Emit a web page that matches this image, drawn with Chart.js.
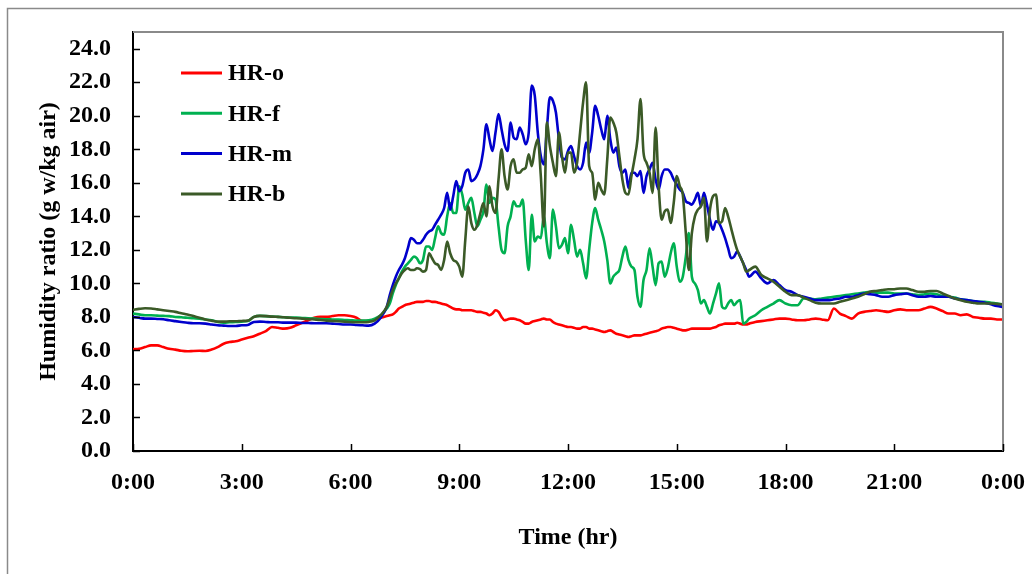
<!DOCTYPE html>
<html>
<head>
<meta charset="utf-8">
<script src="https://cdn.jsdelivr.net/npm/chart.js@4.4.1/dist/chart.umd.min.js"></script>
<style>
  html, body { margin: 0; padding: 0; background: #fff; }
  #wrap { position: relative; width: 1032px; height: 574px; }
  canvas { display: block; }
</style>
</head>
<body>
<div id="wrap"><canvas id="c" width="1032" height="574"></canvas></div>
<script>
// Time of day in minutes (10-min steps, 5-min steps between 7:00 and 17:00)
const times = [
  0,10,20,30,40,50, 60,70,80,90,100,110, 120,130,140,150,160,170,
  180,190,200,210,220,230, 240,250,260,270,280,290, 300,310,320,330,340,350,
  360,370,380,390,400,410,
  420,425,430,435,440,445,450,455,460,465,470,475,
  480,485,490,495,500,505,510,515,520,525,530,535,
  540,545,550,555,560,565,570,575,580,585,590,595,
  600,605,610,615,620,625,630,635,640,645,650,655,
  660,665,670,675,680,685,690,695,700,705,710,715,
  720,725,730,735,740,745,750,755,760,765,770,775,
  780,785,790,795,800,805,810,815,820,825,830,835,
  840,845,850,855,860,865,870,875,880,885,890,895,
  900,905,910,915,920,925,930,935,940,945,950,955,
  960,965,970,975,980,985,990,995,1000,1005,1010,1015,
  1020,
  1030,1040,1050,1060,1070,
  1080,1090,1100,1110,1120,1130, 1140,1150,1160,1170,1180,1190,
  1200,1210,1220,1230,1240,1250, 1260,1270,1280,1290,1300,1310,
  1320,1330,1340,1350,1360,1370, 1380,1390,1400,1410,1420,1430,
  1440
];

const hrO = [
  6.07,6.1,6.2,6.3,6.3,6.2, 6.1,6.05,5.98,5.95,5.97,5.98, 5.97,6.05,6.2,6.4,6.5,6.55,
  6.65,6.75,6.85,7.0,7.15,7.4, 7.35,7.3,7.35,7.5,7.65,7.8, 7.95,8.0,8.0,8.05,8.1,8.1,
  8.05,7.95,7.75,7.75,7.85,7.95,
  8.05,8.1,8.15,8.3,8.5,8.6,8.7,8.75,8.8,8.85,8.9,8.9,
  8.9,8.95,8.95,8.9,8.9,8.85,8.8,8.75,8.7,8.6,8.5,8.45,
  8.45,8.4,8.4,8.4,8.4,8.35,8.3,8.3,8.25,8.2,8.1,8.2,
  8.4,8.3,8.0,7.8,7.85,7.9,7.9,7.85,7.8,7.7,7.6,7.6,
  7.7,7.75,7.8,7.85,7.9,7.85,7.85,7.7,7.6,7.55,7.5,7.45,
  7.4,7.4,7.35,7.3,7.3,7.4,7.4,7.3,7.3,7.25,7.2,7.15,
  7.1,7.15,7.2,7.1,7.0,6.95,6.9,6.85,6.8,6.85,6.9,6.9,
  6.9,6.95,7.0,7.05,7.1,7.15,7.2,7.3,7.35,7.4,7.4,7.35,
  7.3,7.25,7.2,7.2,7.25,7.3,7.3,7.3,7.3,7.3,7.3,7.3,
  7.35,7.4,7.5,7.55,7.6,7.6,7.6,7.6,7.65,7.6,7.55,7.55,
  7.6,
  7.7,7.75,7.8,7.85,7.9,
  7.9,7.85,7.8,7.8,7.85,7.9, 7.85,7.8,8.5,8.2,8.05,7.9,
  8.2,8.3,8.35,8.4,8.35,8.3, 8.4,8.45,8.4,8.4,8.4,8.5,
  8.6,8.5,8.35,8.2,8.2,8.1, 8.15,8.0,7.95,7.9,7.9,7.85,
  7.85
];

const hrF = [
  8.2,8.15,8.1,8.1,8.08,8.06, 8.05,8.0,7.98,7.95,7.92,7.9, 7.85,7.8,7.7,7.66,7.68,7.7,
  7.72,7.75,8.0,8.06,8.05,8.02, 8.0,7.98,7.96,7.96,7.94,7.92, 7.9,7.88,7.86,7.85,7.84,7.82,
  7.8,7.78,7.78,7.8,7.9,8.1,
  8.5,8.8,9.4,9.9,10.3,10.7,11.0,11.2,11.4,11.6,11.5,11.2,
  11.4,12.2,12.2,12.0,12.7,13.4,13.0,12.9,14.0,14.8,14.2,14.2,
  15.8,15.3,14.4,14.8,15.1,14.2,13.4,13.8,14.3,15.9,14.8,15.1,
  15.0,13.4,12.0,11.8,13.4,14.0,14.9,14.6,14.6,15.0,12.6,10.8,
  14.1,12.5,12.8,12.7,14.0,12.4,11.5,14.4,13.4,12.1,12.3,12.7,
  11.8,13.5,12.6,11.6,12.0,11.2,10.3,12.0,13.6,14.5,13.8,13.2,
  12.5,11.4,10.0,10.4,10.6,10.8,11.6,12.2,11.4,11.0,10.8,9.2,
  8.6,10.2,10.8,12.1,11.0,9.9,11.2,11.3,10.4,10.9,11.8,12.4,
  11.0,10.1,10.4,11.6,13.0,10.4,10.0,9.6,8.8,9.0,8.6,8.2,
  8.8,9.4,10.0,8.6,8.5,8.8,9.0,8.7,8.9,9.0,7.6,7.7,
  7.9,
  8.1,8.4,8.6,8.8,9.0,
  8.8,8.7,8.7,9.1,9.1,9.05, 9.1,9.15,9.2,9.25,9.3,9.35,
  9.4,9.45,9.5,9.45,9.45,9.45, 9.4,9.4,9.4,9.35,9.3,9.35,
  9.4,9.35,9.25,9.2,9.15,9.05, 9.0,8.95,8.9,8.9,8.85,8.8,
  8.75
];

const hrM = [
  8.0,7.95,7.9,7.9,7.88,7.86, 7.8,7.75,7.7,7.65,7.62,7.62, 7.6,7.55,7.5,7.48,7.46,7.46,
  7.5,7.52,7.7,7.72,7.7,7.68, 7.68,7.66,7.66,7.66,7.64,7.64, 7.62,7.62,7.62,7.6,7.58,7.55,
  7.55,7.52,7.5,7.48,7.6,7.95,
  8.6,9.3,9.9,10.4,10.8,11.1,11.5,12.1,12.7,12.6,12.4,12.4,
  12.6,12.9,13.1,13.2,13.5,13.8,14.1,14.5,15.4,14.4,15.2,16.1,
  15.5,15.8,16.6,16.8,16.1,16.2,16.5,17.0,18.0,19.5,18.6,17.9,
  19.0,20.1,19.2,18.3,17.9,19.6,18.7,18.6,19.3,18.9,18.3,19.0,
  21.8,21.2,19.0,17.6,17.1,19.2,21.1,20.9,20.2,18.6,17.5,17.4,
  17.9,18.2,17.6,17.0,16.8,17.2,18.4,17.8,19.0,20.6,20.0,19.2,
  18.6,20.0,18.6,17.8,18.1,17.0,16.6,16.8,15.7,16.6,16.6,16.4,
  16.7,15.4,16.4,16.8,17.2,16.2,15.6,16.4,16.8,16.8,16.6,16.2,
  15.9,15.6,15.4,14.9,14.8,14.7,15.0,15.4,14.6,15.4,14.7,13.8,
  13.2,13.7,13.6,13.2,12.7,12.1,11.5,11.6,11.9,11.6,11.2,10.8,
  10.4,
  10.7,10.3,10.0,10.2,9.9,
  9.6,9.5,9.3,9.2,9.1,9.0, 9.0,9.0,9.05,9.1,9.2,9.2,
  9.3,9.4,9.35,9.3,9.2,9.2, 9.3,9.35,9.4,9.3,9.2,9.2,
  9.25,9.2,9.2,9.2,9.1,9.05, 9.0,8.95,8.9,8.85,8.75,8.65,
  8.6
];

const hrB = [
  8.42,8.48,8.52,8.5,8.45,8.4, 8.35,8.3,8.22,8.15,8.05,7.95, 7.85,7.78,7.72,7.72,7.74,7.74,
  7.76,7.78,8.0,8.06,8.05,8.02, 8.0,7.98,7.95,7.92,7.9,7.88, 7.85,7.82,7.78,7.76,7.74,7.72,
  7.7,7.68,7.68,7.7,7.8,8.1,
  8.6,9.1,9.6,10.0,10.3,10.6,10.8,10.9,10.8,10.8,10.9,10.85,
  10.7,10.8,11.8,11.5,11.2,11.1,10.8,11.4,12.5,11.8,11.4,11.3,
  11.0,10.4,12.6,14.6,13.6,13.2,13.5,14.2,14.8,14.0,15.8,14.6,
  14.2,16.2,18.0,16.4,15.6,17.0,17.4,16.6,16.6,16.8,16.9,17.7,
  17.0,18.0,18.6,16.4,13.4,19.6,18.2,17.2,16.4,19.0,17.6,16.6,
  17.8,17.8,16.6,17.2,19.0,20.8,22.0,17.0,16.6,15.0,16.0,15.6,
  15.3,17.4,19.9,19.6,19.0,17.6,16.2,15.4,15.3,16.4,17.4,18.6,
  21.0,17.8,17.2,16.6,15.4,19.3,15.8,13.8,14.3,14.4,13.6,14.8,
  16.4,15.8,15.3,13.0,10.8,13.0,14.0,14.4,14.6,15.1,12.5,14.4,
  15.2,15.3,13.6,13.7,14.5,14.0,13.3,12.6,12.0,11.6,11.2,10.7,
  10.8,
  11.0,10.5,10.3,10.1,9.8,
  9.5,9.3,9.3,9.15,9.0,8.85, 8.8,8.8,8.8,8.9,9.0,9.1,
  9.2,9.35,9.5,9.55,9.6,9.65, 9.65,9.7,9.7,9.6,9.5,9.5,
  9.55,9.55,9.4,9.25,9.1,9.0, 8.9,8.85,8.8,8.8,8.8,8.78,
  8.75
];

const seriesNames = ['HR-o', 'HR-f', 'HR-m', 'HR-b'];
const xTickLabels = ['0:00','3:00','6:00','9:00','12:00','15:00','18:00','21:00','0:00'];
const yTickValues = [0, 2, 4, 6, 8, 10, 12, 14, 16, 18, 20, 22, 24];

const colors = ['#FF0000', '#00B050', '#0000CC', '#3B5A27'];
const seriesValues = [hrO, hrF, hrM, hrB];

const FONT = "'Liberation Serif', 'Times New Roman', serif";

const datasets = seriesValues.map((vals, k) => ({
  label: seriesNames[k],
  data: times.map((t, i) => ({ x: t, y: vals[i] })),
  borderColor: colors[k],
  backgroundColor: colors[k],
  borderWidth: 2.6,
  pointRadius: 0,
  fill: false,
  cubicInterpolationMode: 'monotone',
  order: 4 - k
}));

const decor = {
  id: 'decor',
  beforeDraw(chart) {
    const ctx = chart.ctx;
    ctx.save();
    ctx.fillStyle = '#fff';
    ctx.fillRect(0, 0, chart.width, chart.height);
    ctx.restore();
  },
  afterDraw(chart) {
    const { ctx, chartArea: a, scales: { x, y } } = chart;
    ctx.save();
    // outer frame
    ctx.strokeStyle = '#8a8a8a';
    ctx.lineWidth = 1.5;
    ctx.beginPath();
    ctx.moveTo(7.5, chart.height);
    ctx.lineTo(7.5, 8.5);
    ctx.lineTo(chart.width, 8.5);
    ctx.stroke();
    // plot top/right border
    ctx.strokeStyle = '#8a8a8a';
    ctx.lineWidth = 2;
    ctx.beginPath();
    ctx.moveTo(a.left, a.top);
    ctx.lineTo(a.right, a.top);
    ctx.lineTo(a.right, a.bottom);
    ctx.stroke();
    // inside ticks
    ctx.strokeStyle = '#000';
    ctx.lineWidth = 1.5;
    ctx.beginPath();
    y.ticks.forEach(t => {
      const py = Math.round(y.getPixelForValue(t.value)) + 0.5;
      ctx.moveTo(a.left, py);
      ctx.lineTo(a.left + 7, py);
    });
    x.ticks.forEach(t => {
      const px = Math.round(x.getPixelForValue(t.value)) + 0.5;
      ctx.moveTo(px, a.bottom);
      ctx.lineTo(px, a.bottom - 7);
    });
    ctx.stroke();
    // legend
    const lx0 = 181, lx1 = 222, tx = 228, ly0 = 73, dy = 40.3;
    ctx.font = 'bold 24px ' + FONT;
    ctx.textBaseline = 'middle';
    ctx.textAlign = 'left';
    chart.data.datasets.forEach((ds, k) => {
      const ly = ly0 + k * dy;
      ctx.strokeStyle = ds.borderColor;
      ctx.lineWidth = 3;
      ctx.beginPath();
      ctx.moveTo(lx0, ly);
      ctx.lineTo(lx1, ly);
      ctx.stroke();
      ctx.fillStyle = '#000';
      ctx.fillText(ds.label, tx, ly + 1);
    });
    ctx.restore();
  }
};

new Chart(document.getElementById('c'), {
  type: 'line',
  data: { datasets },
  options: {
    responsive: false,
    animation: false,
    devicePixelRatio: 1,
    layout: { padding: { left: 0, right: 29, top: 32, bottom: 0 } },
    plugins: { legend: { display: false }, tooltip: { enabled: false } },
    scales: {
      x: {
        type: 'linear',
        min: 0,
        max: 1440,
        afterFit(s) { s.height = 123; s.paddingLeft = 0; s.paddingRight = 0; },
        afterBuildTicks(s) { s.ticks = xTickLabels.map((_, i) => ({ value: i * 180 })); },
        grid: { display: false, drawTicks: false },
        border: { display: true, color: '#000', width: 2 },
        ticks: {
          padding: 17,
          autoSkip: false,
          maxRotation: 0,
          color: '#000',
          font: { family: FONT, size: 24, weight: 'bold' },
          callback: (v, i) => xTickLabels[i]
        },
        title: {
          display: true,
          text: 'Time (hr)',
          color: '#000',
          font: { family: FONT, size: 24, weight: 'bold' },
          padding: { top: 0, bottom: 22 }
        }
      },
      y: {
        min: 0,
        max: 25,
        afterFit(s) { s.width = 133; s.paddingTop = 0; s.paddingBottom = 0; },
        afterBuildTicks(s) { s.ticks = yTickValues.map(v => ({ value: v })); },
        grid: { display: false, drawTicks: false },
        border: { display: true, color: '#000', width: 2 },
        ticks: {
          padding: 22,
          autoSkip: false,
          color: '#000',
          font: { family: FONT, size: 24, weight: 'bold' },
          callback: v => v.toFixed(1)
        },
        title: {
          display: true,
          text: 'Humidity ratio (g w/kg air)',
          color: '#000',
          font: { family: FONT, size: 24, weight: 'bold' },
          padding: { top: 34, bottom: 0 }
        }
      }
    }
  },
  plugins: [decor]
});
</script>
</body>
</html>
